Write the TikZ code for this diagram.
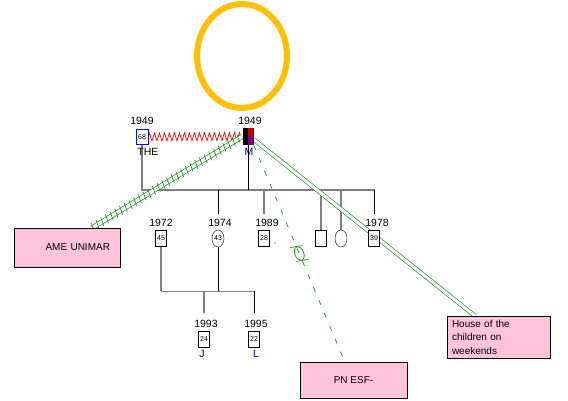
\documentclass[tikz,border=0pt]{standalone}
\usepackage{fontspec}
\setmainfont{Liberation Sans}
\usetikzlibrary{shapes.geometric,decorations.pathmorphing,decorations.markings,backgrounds}
\definecolor{boxpink}{RGB}{255,196,218}
\definecolor{ringgold}{RGB}{255,192,0}
\definecolor{tiegreen}{RGB}{40,150,40}
\tikzset{
  male/.style={draw,fill=white,inner sep=0pt,minimum width=11pt,minimum height=16pt,
    font=\fontsize{7}{7}\selectfont,label distance=1pt},
  female/.style={male,ellipse,minimum width=12pt,minimum height=17pt},
  yr/.style={font=\fontsize{10.5}{12}\selectfont},
  note/.style={draw,fill=boxpink,inner sep=0pt,font=\fontsize{10}{13.5}\selectfont},
  kin/.style={gray,line width=1.6pt},
  kinthin/.style={black,line width=0.7pt},
  hatch/.style={tiegreen,line width=0.7pt,double=white,double distance=3.6pt,
    postaction={decorate,decoration={markings,
      mark=between positions 0.02 and 1 step 5.5pt with {\draw[tiegreen,line width=0.7pt] (0pt,-4.5pt) -- (1.8pt,4.5pt);}}}},
  tie/.style={tiegreen,line width=0.7pt,double=white,double distance=3pt},
  faint/.style={tiegreen,line width=0.8pt,dash pattern=on 5pt off 9pt,
    postaction={decorate,decoration={markings,
      mark=at position 0.5 with {\draw[tiegreen,solid,line width=0.8pt] (0pt,0pt) ellipse (7pt and 4.5pt);
        \draw[tiegreen,solid,line width=0.8pt] (-9pt,-6pt) -- (-6pt,6pt) (6pt,-6pt) -- (9pt,6pt);}}}}
}
\begin{document}
\begin{tikzpicture}[x=1pt,y=-1pt]
  \useasboundingbox (0,0) rectangle (568,401);
  % ring above the father
  \draw[ringgold,line width=6pt] (242,56) ellipse (45 and 52);

  % parents
  \node[male,draw=blue,minimum width=12pt,minimum height=15pt,
    label={[yr,yshift=1pt]above:1949},label={[yr,xshift=6pt]below:THE}] (the) at (142,137) {68};
  \node[inner sep=0pt,minimum width=11pt,minimum height=17pt,fill=black,
    path picture={\fill[red!75!black] (path picture bounding box.north) rectangle (path picture bounding box.east);
      \fill[violet] (path picture bounding box.center) rectangle (path picture bounding box.south east);},
    label={[yr,xshift=2pt]above:1949},label={[yr,text=blue!50!black,xshift=1pt]below:M}] (m) at (248,136.5) {};

  % children
  \node[male,label={[yr]above:1972}] (c45) at (161,238.5) {45};
  \node[female,label={[yr,xshift=2pt]above:1974}] (c43) at (218,238.5) {43};
  \node[male,label={[yr,xshift=3pt]above:1989}] (c28) at (264,238.5) {28};
  \node[male] (cx) at (321,238.5) {};
  \node[female] (cy) at (341,238.5) {};
  \node[male,label={[yr,xshift=3pt]above:1978}] (c39) at (374,238.5) {39};
  \fill[blue] (275,243) circle (0.7);

  % grandchildren
  \node[male,label={[yr,xshift=2pt]above:1993},label={[yr,text=blue!50!black,xshift=-2pt]below:J}] (c24) at (204,339) {24};
  \node[male,label={[yr,xshift=2pt]above:1995},label={[yr,text=blue,xshift=2pt]below:L}] (c22) at (254,339) {22};

  % outside ties
  \node[note,minimum width=106pt,minimum height=39pt,text width=86pt,align=right] (ame) at (67,247.5) {AME UNIMAR\\[2pt]};
  \node[note,minimum width=107pt,minimum height=36pt] (pn) at (353.5,380) {PN ESF-\\[6pt]};
  \node[note,minimum width=103pt,minimum height=42pt,text width=93pt,align=left] (house) at (498.5,337)
    {House of the\\children on\\weekends};

  \begin{scope}[on background layer]
    \draw[red,line width=0.7pt,decorate,decoration={zigzag,segment length=5pt,amplitude=4pt}] (the.east) -- (m.west);
    \coordinate (barL) at (142,190);
    \coordinate (barR) at (375,190);
    \draw[kin] (the.south) -- (barL) -- (barR);
    \draw[kinthin] (m.south) -- (m |- barL);
    \draw[kinthin] ([yshift=16pt]c43.north) -- (c43 |- barL);
    \draw[kin] ([yshift=16pt]c28.north) -- (c28 |- barL);
    \draw[kin] (cx.north) -- (cx |- barL);
    \draw[kin] (cy.north) -- (cy |- barL);
    \draw[kinthin] ([yshift=16pt]c39.north) -- (c39 |- barL);
    \coordinate (bar2) at (161,291);
    \draw[kin] (c45.south) -- (bar2);
    \draw[gray,line width=0.9pt] (bar2) -- (c22 |- bar2);
    \draw[kinthin] (c43.south) -- (c43 |- bar2);
    \draw[gray,line width=1.2pt] ([yshift=18pt]c24.north) -- (c24 |- bar2);
    \draw[kinthin] ([yshift=18pt]c22.north) -- (c22 |- bar2);
    \draw[hatch] (m.west) -- ([xshift=-28pt]ame.north east);
    \draw[tie] ([yshift=-3pt]m.east) -- ([xshift=28pt]house.north west);
    \draw[faint] (m.south east) -- ([xshift=45pt]pn.north west);
  \end{scope}
\end{tikzpicture}
\end{document}
